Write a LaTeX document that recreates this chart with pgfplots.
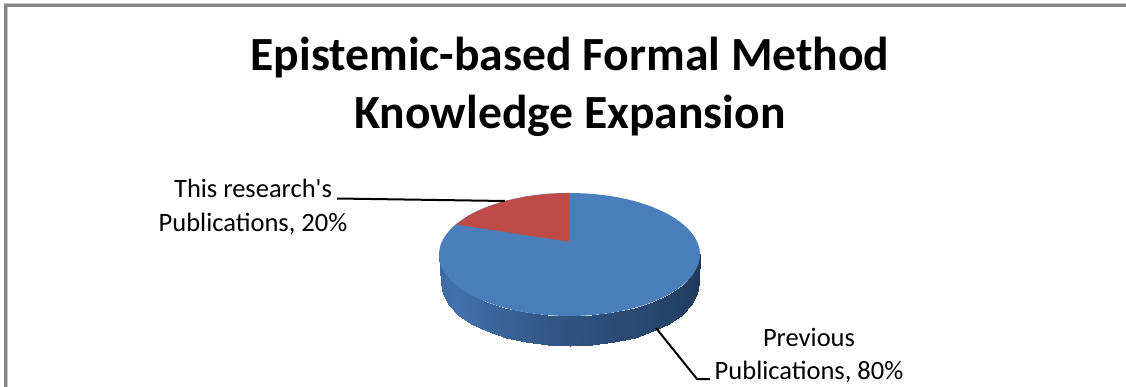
\documentclass[border=0pt]{standalone}
\usepackage{fontspec}
\setmainfont{Carlito}
\usepackage{pgfplots}
\pgfplotsset{compat=1.18}

\definecolor{pieblue}{HTML}{4A7EBB}
\definecolor{piered}{HTML}{BE4B48}

\begin{document}
\begin{tikzpicture}
\begin{axis}[
    width=1126pt, height=387pt, scale only axis,
    xmin=0, xmax=1126, ymin=0, ymax=387,
    y dir=reverse,
    hide axis,
    colormap={side}{rgb255(0cm)=(30,55,87) rgb255(6cm)=(47,82,128) rgb255(10cm)=(66,114,172) rgb255(12cm)=(60,105,160)},
  ]
  % frame, only the top and left edges are in the picture
  \addplot[draw=black!22, line width=4pt] coordinates {(5.5,387) (5.5,5.5) (1126,5.5)};
  \addplot[draw=black!48, line width=2.2pt] coordinates {(5.5,387) (5.5,5.5) (1126,5.5)};

  % side of the disc: upper rim, then lower rim, meta runs right to left
  \addplot[surf, shader=interp, mesh/cols=19, point meta=\thisrow{c}] table {
    x y c
    700.0 254.5 0
    698.0 265.2 10
    692.1 275.5 20
    682.5 285.2 30
    669.5 294.0 40
    653.4 301.6 50
    634.8 307.8 60
    614.1 312.3 70
    592.2 315.1 80
    569.5 316.0 90
    546.8 315.1 100
    524.9 312.3 110
    504.2 307.8 120
    485.6 301.6 130
    469.5 294.0 140
    456.5 285.2 150
    446.9 275.5 160
    441.0 265.2 170
    439.0 254.5 180
    699.0 283.0 0
    697.0 293.9 10
    691.2 304.5 20
    681.7 314.5 30
    668.8 323.5 40
    652.9 331.3 50
    634.5 337.6 60
    614.1 342.2 70
    592.4 345.0 80
    570.0 346.0 90
    547.6 345.0 100
    525.9 342.2 110
    505.5 337.6 120
    487.1 331.3 130
    471.2 323.5 140
    458.3 314.5 150
    448.8 304.5 160
    443.0 293.9 170
    441.0 283.0 180
  };

  % top of the disc
  \addplot[fill=pieblue, draw=none, smooth cycle] coordinates {
    (700.0,254.5) (698.0,265.2) (692.1,275.5) (682.5,285.2) (669.5,294.0) (653.4,301.6)
    (634.8,307.8) (614.1,312.3) (592.2,315.1) (569.5,316.0) (546.8,315.1) (524.9,312.3)
    (504.2,307.8) (485.6,301.6) (469.5,294.0) (456.5,285.2) (446.9,275.5) (441.0,265.2)
    (439.0,254.5) (441.0,243.8) (446.9,233.5) (456.5,223.8) (469.5,215.0) (485.6,207.4)
    (504.2,201.2) (524.9,196.7) (546.8,193.9) (569.5,193.0) (592.2,193.9) (614.1,196.7)
    (634.8,201.2) (653.4,207.4) (669.5,215.0) (682.5,223.8) (692.1,233.5) (698.0,243.8)
  };

  % this research's slice
  \addplot[fill=piered, draw=none] coordinates {
    (569,193.0) (546.8,193.9) (524.9,196.7) (504.2,201.2) (485.6,207.4) (469.5,215.0) (456,224.5) (569,241.7)
  } --cycle;

  % leader lines
  \addplot[black, line width=2pt] coordinates {(337,198.5) (505,201)};
  \addplot[black, line width=2pt] coordinates {(656,328) (697,379) (710,379)};

  \node[anchor=base, font=\fontsize{47.6}{57}\bfseries\selectfont] at (axis cs:570,71) {Epistemic-based Formal Method};
  \node[anchor=base, font=\fontsize{47.6}{57}\bfseries\selectfont] at (axis cs:570,128.5) {Knowledge Expansion};
  \node[anchor=base, font=\fontsize{26.5}{32}\selectfont] at (axis cs:253,198) {This research\textquotesingle s};
  \node[anchor=base, font=\fontsize{26.5}{32}\selectfont] at (axis cs:253,231.5) {Publications, 20\%};
  \node[anchor=base, font=\fontsize{26.5}{32}\selectfont] at (axis cs:809,346) {Previous};
  \node[anchor=base, font=\fontsize{26.5}{32}\selectfont] at (axis cs:809,379) {Publications, 80\%};
\end{axis}
\pgfresetboundingbox
\path[use as bounding box] (0,0) rectangle (1126pt,387pt);
\end{tikzpicture}
\end{document}
